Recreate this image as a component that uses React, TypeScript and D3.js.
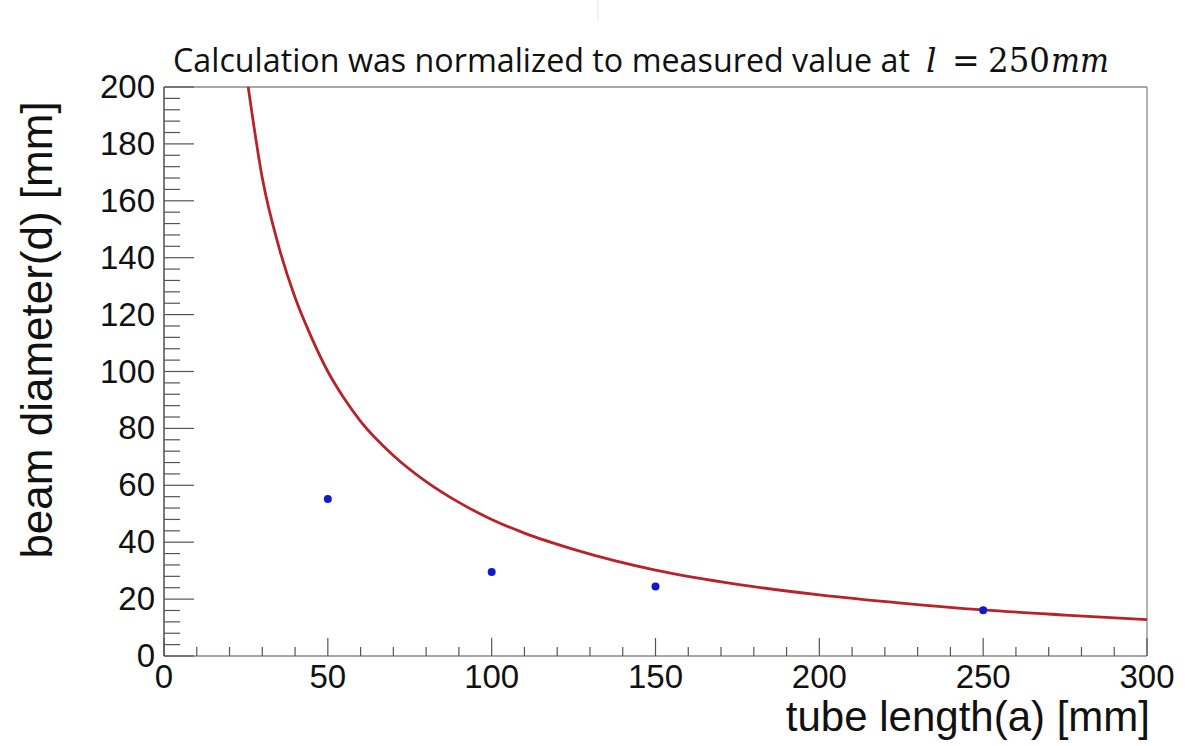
import React from "react";
import * as d3 from "d3";

const W = 1185;
const H = 746;

const xTicks = [0, 50, 100, 150, 200, 250, 300];
const yTicks = [0, 20, 40, 60, 80, 100, 120, 140, 160, 180, 200];

// measured points (tube length a, beam diameter d)
const measA = [50, 100, 150, 250];
const measD = [55.2, 29.5, 24.4, 16.1];

// calculated curve
const curveA = [25.7, 30, 35, 40, 45, 50, 55, 60, 70, 80, 90, 100, 110, 125, 150, 175, 200, 225, 250, 275, 300];
const curveD = [200, 168, 144, 126, 112, 100, 90.5, 82.5, 70.5, 61.3, 54, 48, 43.2, 37.5, 30.2, 25.2, 21.5, 18.6, 16.2, 14.4, 12.8];

export default function App() {
  const left = 164, right = 1147, top = 87, bottom = 656;
  const x = d3.scaleLinear().domain([0, 300]).range([left, right]);
  const y = d3.scaleLinear().domain([0, 200]).range([bottom, top]);

  const line = d3
    .line<number>()
    .x((_, i) => x(curveA[i]))
    .y((_, i) => y(curveD[i]))
    .curve(d3.curveMonotoneX);
  const path = line(curveA) || "";

  const xMinor = d3.range(0, 301, 10);
  const yMinor = d3.range(0, 201, 4);

  const font = "'Liberation Sans', Arial, Helvetica, sans-serif";
  const math = "'DejaVu Serif', 'Liberation Serif', serif";

  return (
    <svg width={W} height={H} style={{ position: "absolute", left: 0, top: 0, background: "#fff" }}>
      <rect x={0} y={0} width={W} height={H} fill="#fff" />
      {/* faint mark at top */}
      <line x1={598} x2={598} y1={0} y2={20} stroke="#e4e4e4" strokeWidth={1} />

      {/* frame */}
      <line x1={left} x2={right} y1={top} y2={top} stroke="#8a8a8a" strokeWidth={1.3} />
      <line x1={right} x2={right} y1={top} y2={bottom} stroke="#8a8a8a" strokeWidth={1.3} />
      <line x1={left} x2={right} y1={bottom} y2={bottom} stroke="#8a8a8a" strokeWidth={1.3} />
      <line x1={left} x2={left} y1={top} y2={bottom} stroke="#333" strokeWidth={1.3} />

      {/* y ticks */}
      {yMinor.map((v) => {
        const major = v % 20 === 0;
        return (
          <line key={"ym" + v} x1={left} x2={left + (major ? 30 : 16)} y1={y(v)} y2={y(v)} stroke="#555" strokeWidth={1.2} />
        );
      })}
      {/* x ticks */}
      {xMinor.map((v) => {
        const major = v % 50 === 0;
        return (
          <line key={"xm" + v} x1={x(v)} x2={x(v)} y1={bottom} y2={bottom - (major ? 18 : 9)} stroke="#555" strokeWidth={1.2} />
        );
      })}

      {/* y tick labels */}
      {yTicks.map((v) => (
        <text key={"yl" + v} x={155} y={y(v) + 11} textAnchor="end" fontFamily={font} fontSize={33} fill="#111">
          {v}
        </text>
      ))}
      {/* x tick labels */}
      {xTicks.map((v) => (
        <text key={"xl" + v} x={x(v)} y={688} textAnchor="middle" fontFamily={font} fontSize={33} fill="#111">
          {v}
        </text>
      ))}

      {/* axis titles */}
      <text x={1150} y={731} textAnchor="end" fontFamily={font} fontSize={42} fill="#111">
        tube length(a) [mm]
      </text>
      <text transform={`translate(52,330) rotate(-90)`} textAnchor="middle" fontFamily={font} fontSize={44} fill="#111">
        beam diameter(d) [mm]
      </text>

      {/* title */}
      <text x={173} y={72} fontFamily="'Open Sans', 'Noto Sans', sans-serif" fontSize={33} fill="#111" textLength={737} lengthAdjust="spacingAndGlyphs">
        Calculation was normalized to measured value at
      </text>
      <text x={926} y={72} fontFamily={math} fontStyle="italic" fontSize={33} fill="#111">l</text>
      <text x={952} y={72} fontFamily={math} fontSize={33} fill="#111">=</text>
      <text x={988} y={72} fontFamily={math} fontSize={33} fill="#111" textLength={62} lengthAdjust="spacingAndGlyphs">250</text>
      <text x={1051} y={72} fontFamily={math} fontStyle="italic" fontSize={33} fill="#111" textLength={58} lengthAdjust="spacingAndGlyphs">mm</text>

      {/* curve */}
      <path d={path} fill="none" stroke="#b8232a" strokeWidth={2.8} />

      {/* points */}
      {measA.map((a, i) => (
        <circle key={"p" + i} cx={x(a)} cy={y(measD[i])} r={4} fill="#0c1ccc" />
      ))}
    </svg>
  );
}
